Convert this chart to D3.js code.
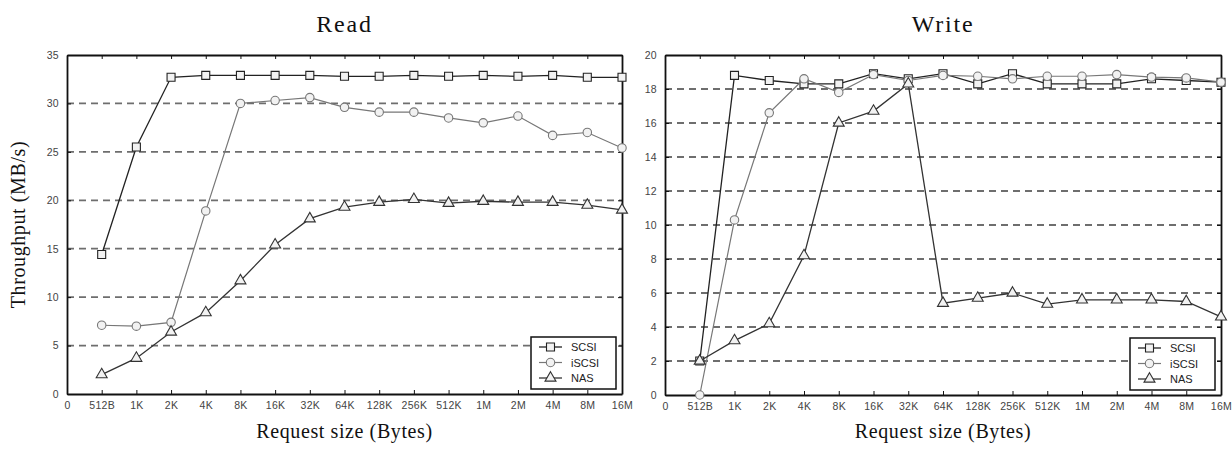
<!DOCTYPE html>
<html>
<head>
<meta charset="utf-8">
<script src="https://cdn.jsdelivr.net/npm/d3@7"></script>
<style>
  body { margin: 0; background: #fff; }
  .tick-label { font-family: "Liberation Sans", Arial, sans-serif; font-size: 10.5px; fill: #444; letter-spacing: 0.3px; }
  .title { font-family: "Liberation Serif", "Times New Roman", serif; font-size: 24px; fill: #111; letter-spacing: 1.8px; }
  .axis-title { font-family: "Liberation Serif", "Times New Roman", serif; font-size: 20px; fill: #111; letter-spacing: 0.6px; }
  .legend-text { font-family: "Liberation Sans", Arial, sans-serif; font-size: 11px; fill: #222; }
</style>
</head>
<body>
<div id="chart"></div>
<script>
// request sizes on the x axis (index 0 is the empty "0" slot)
var sizeLabels = ["0", "512B", "1K", "2K", "4K", "8K", "16K", "32K", "64K", "128K", "256K", "512K", "1M", "2M", "4M", "8M", "16M"];
var seriesNames = ["SCSI", "iSCSI", "NAS"];

// read throughput (MB/s), 512B .. 16M
var readScsi  = [14.4, 25.5, 32.7, 32.9, 32.9, 32.9, 32.9, 32.8, 32.8, 32.9, 32.8, 32.9, 32.8, 32.9, 32.7, 32.7];
var readIscsi = [7.1, 7.0, 7.4, 18.9, 30.0, 30.3, 30.6, 29.6, 29.1, 29.1, 28.5, 28.0, 28.7, 26.7, 27.0, 25.4];
var readNas   = [2.0, 3.7, 6.4, 8.4, 11.7, 15.4, 18.1, 19.3, 19.8, 20.1, 19.7, 19.9, 19.8, 19.8, 19.5, 19.0];

// write throughput (MB/s), 512B .. 16M
var writeScsi  = [2.0, 18.8, 18.5, 18.3, 18.3, 18.9, 18.6, 18.9, 18.3, 18.9, 18.3, 18.3, 18.3, 18.6, 18.5, 18.4];
var writeIscsi = [0.0, 10.3, 16.6, 18.6, 17.8, 18.85, 18.5, 18.8, 18.75, 18.6, 18.75, 18.75, 18.85, 18.7, 18.65, 18.4];
var writeNas   = [2.0, 3.2, 4.2, 8.2, 16.0, 16.7, 18.3, 5.4, 5.7, 6.0, 5.35, 5.6, 5.6, 5.6, 5.5, 4.6];

var readYTicks  = [0, 5, 10, 15, 20, 25, 30, 35];
var writeYTicks = [0, 2, 4, 6, 8, 10, 12, 14, 16, 18, 20];

var W = 1232, H = 450;
var svg = d3.select("#chart").append("svg").attr("width", W).attr("height", H);

var styles = [
    { shape: d3.symbolSquare,   size: 64, stroke: "#222", line: "#222", width: 1.3 },
    { shape: d3.symbolCircle,   size: 56, stroke: "#777", line: "#777", width: 1.2 },
    { shape: d3.symbolTriangle, size: 52, stroke: "#333", line: "#333", width: 1.3 }
];

function drawPanel(cfg) {
    var g = svg.append("g");
    var x = d3.scaleLinear().domain([0, sizeLabels.length - 1]).range([cfg.left, cfg.right]);
    var y = d3.scaleLinear().domain([0, d3.max(cfg.yTicks)]).range([cfg.bottom, cfg.top]);

    // dashed grid lines
    g.append("g").selectAll("line")
        .data(cfg.yTicks.slice(1, -1))
        .enter().append("line")
            .attr("x1", cfg.left).attr("x2", cfg.right)
            .attr("y1", d => y(d)).attr("y2", d => y(d))
            .attr("stroke", "#6e6e6e")
            .attr("stroke-width", 1.8)
            .attr("stroke-dasharray", "7,5");

    // axes with inward ticks
    var xb = d3.axisBottom(x).tickValues(d3.range(sizeLabels.length)).tickFormat(i => sizeLabels[i]).tickSizeInner(-4).tickSizeOuter(0).tickPadding(8);
    var xt = d3.axisTop(x).tickValues(d3.range(sizeLabels.length)).tickFormat("").tickSizeInner(-4).tickSizeOuter(0);
    var yl = d3.axisLeft(y).tickValues(cfg.yTicks).tickSizeInner(-4).tickSizeOuter(0).tickPadding(8);
    var yr = d3.axisRight(y).tickValues(cfg.yTicks).tickFormat("").tickSizeInner(-4).tickSizeOuter(0);

    g.append("g").attr("transform", "translate(0," + cfg.bottom + ")").call(xb);
    g.append("g").attr("transform", "translate(0," + cfg.top + ")").call(xt);
    g.append("g").attr("transform", "translate(" + cfg.left + ",0)").call(yl);
    g.append("g").attr("transform", "translate(" + cfg.right + ",0)").call(yr);

    g.selectAll(".domain").attr("stroke", "#111").attr("stroke-width", 1.8);
    g.selectAll(".tick line").attr("stroke", "#111").attr("stroke-width", 1);
    g.selectAll(".tick text").attr("class", "tick-label").attr("fill", null).attr("font-size", null).attr("font-family", null);

    var line = d3.line().x((d, i) => x(i + 1)).y(d => y(d));

    cfg.series.forEach(function (vals, k) {
        var st = styles[k];
        g.append("path")
            .datum(vals)
            .attr("d", line)
            .attr("fill", "none")
            .attr("stroke", st.line)
            .attr("stroke-width", st.width);
        g.append("g").selectAll("path")
            .data(vals)
            .enter().append("path")
                .attr("d", d3.symbol().type(st.shape).size(st.size))
                .attr("transform", (d, i) => "translate(" + x(i + 1) + "," + y(d) + ")")
                .attr("fill", "#f2f2f2")
                .attr("stroke", st.stroke)
                .attr("stroke-width", 1.1);
    });

    // legend
    var lg = g.append("g").attr("transform", "translate(" + (cfg.right - 91) + "," + (cfg.bottom - 57) + ")");
    lg.append("rect").attr("width", 85).attr("height", 52)
        .attr("fill", "#fff").attr("stroke", "#111").attr("stroke-width", 1.5);
    seriesNames.forEach(function (name, k) {
        var st = styles[k];
        var ry = 10 + k * 15.5;
        lg.append("line").attr("x1", 8).attr("x2", 31).attr("y1", ry).attr("y2", ry)
            .attr("stroke", st.line).attr("stroke-width", st.width);
        lg.append("path")
            .attr("d", d3.symbol().type(st.shape).size(st.size))
            .attr("transform", "translate(19.5," + ry + ")")
            .attr("fill", "#f2f2f2").attr("stroke", st.stroke).attr("stroke-width", 1.1);
        lg.append("text").attr("class", "legend-text")
            .attr("x", 40).attr("y", ry + 4).text(name);
    });

    // titles
    var cx = (cfg.left + cfg.right) / 2;
    g.append("text").attr("class", "title").attr("x", cx).attr("y", 32)
        .attr("text-anchor", "middle").text(cfg.title);
    g.append("text").attr("class", "axis-title").attr("x", cx).attr("y", 438)
        .attr("text-anchor", "middle").text("Request size (Bytes)");
    if (cfg.yTitle) {
        g.append("text").attr("class", "axis-title")
            .attr("transform", "translate(25," + ((cfg.top + cfg.bottom) / 2) + ") rotate(-90)")
            .attr("text-anchor", "middle").text(cfg.yTitle);
    }
}

drawPanel({
    title: "Read", yTitle: "Throughput (MB/s)",
    left: 67, right: 622, top: 55, bottom: 394,
    yTicks: readYTicks,
    series: [readScsi, readIscsi, readNas]
});

drawPanel({
    title: "Write",
    left: 665, right: 1221, top: 55, bottom: 395,
    yTicks: writeYTicks,
    series: [writeScsi, writeIscsi, writeNas]
});
</script>
</body>
</html>
